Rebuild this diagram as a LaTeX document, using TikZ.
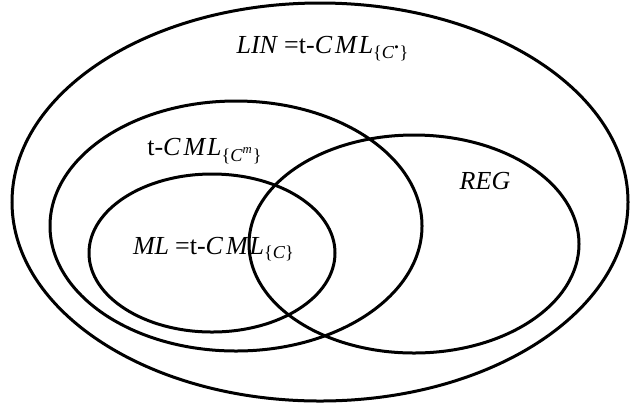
\documentclass[tikz,border=0pt]{standalone}
\usepackage{fontspec}
\setmainfont{Liberation Serif}
\usepackage{tikz}
\tikzset{
  setline/.style={draw=black,line width=1.5pt},
  setlabel/.style={inner sep=0pt,font=\fontsize{13}{15}\selectfont}
}
\newcommand{\vit}[1]{\textit{#1}}
\newcommand{\cml}{t-\vit{C\kern1.5pt M\kern1pt L}}

\begin{document}
\begin{tikzpicture}[x=0.5pt,y=0.5pt]
\path[use as bounding box] (0,0) rectangle (630,-403);

% nested language classes
\draw[setline] (320,-202) ellipse [x radius=308, y radius=199];
\draw[setline] (236,-226) ellipse [x radius=186, y radius=125];
\draw[setline] (414,-244) ellipse [x radius=165, y radius=109];
\draw[setline] (212,-253) ellipse [x radius=123, y radius=79];

\node[setlabel] (lin) at (323,-49)
  {\vit{LIN}\kern3pt=\cml\textsubscript{\{\vit{C}\textsuperscript{\textbullet}\}}};
\node[setlabel] (tcml) at (205,-151)
  {\cml\textsubscript{\{\vit{C}\textsuperscript{\vit{m}}\}}};
\node[setlabel] (ml) at (214,-249)
  {\vit{ML}\kern3pt=\cml\textsubscript{\{\vit{C}\}}};
\node[setlabel] (reg) at (485,-181) {\vit{REG}};
\end{tikzpicture}
\end{document}
